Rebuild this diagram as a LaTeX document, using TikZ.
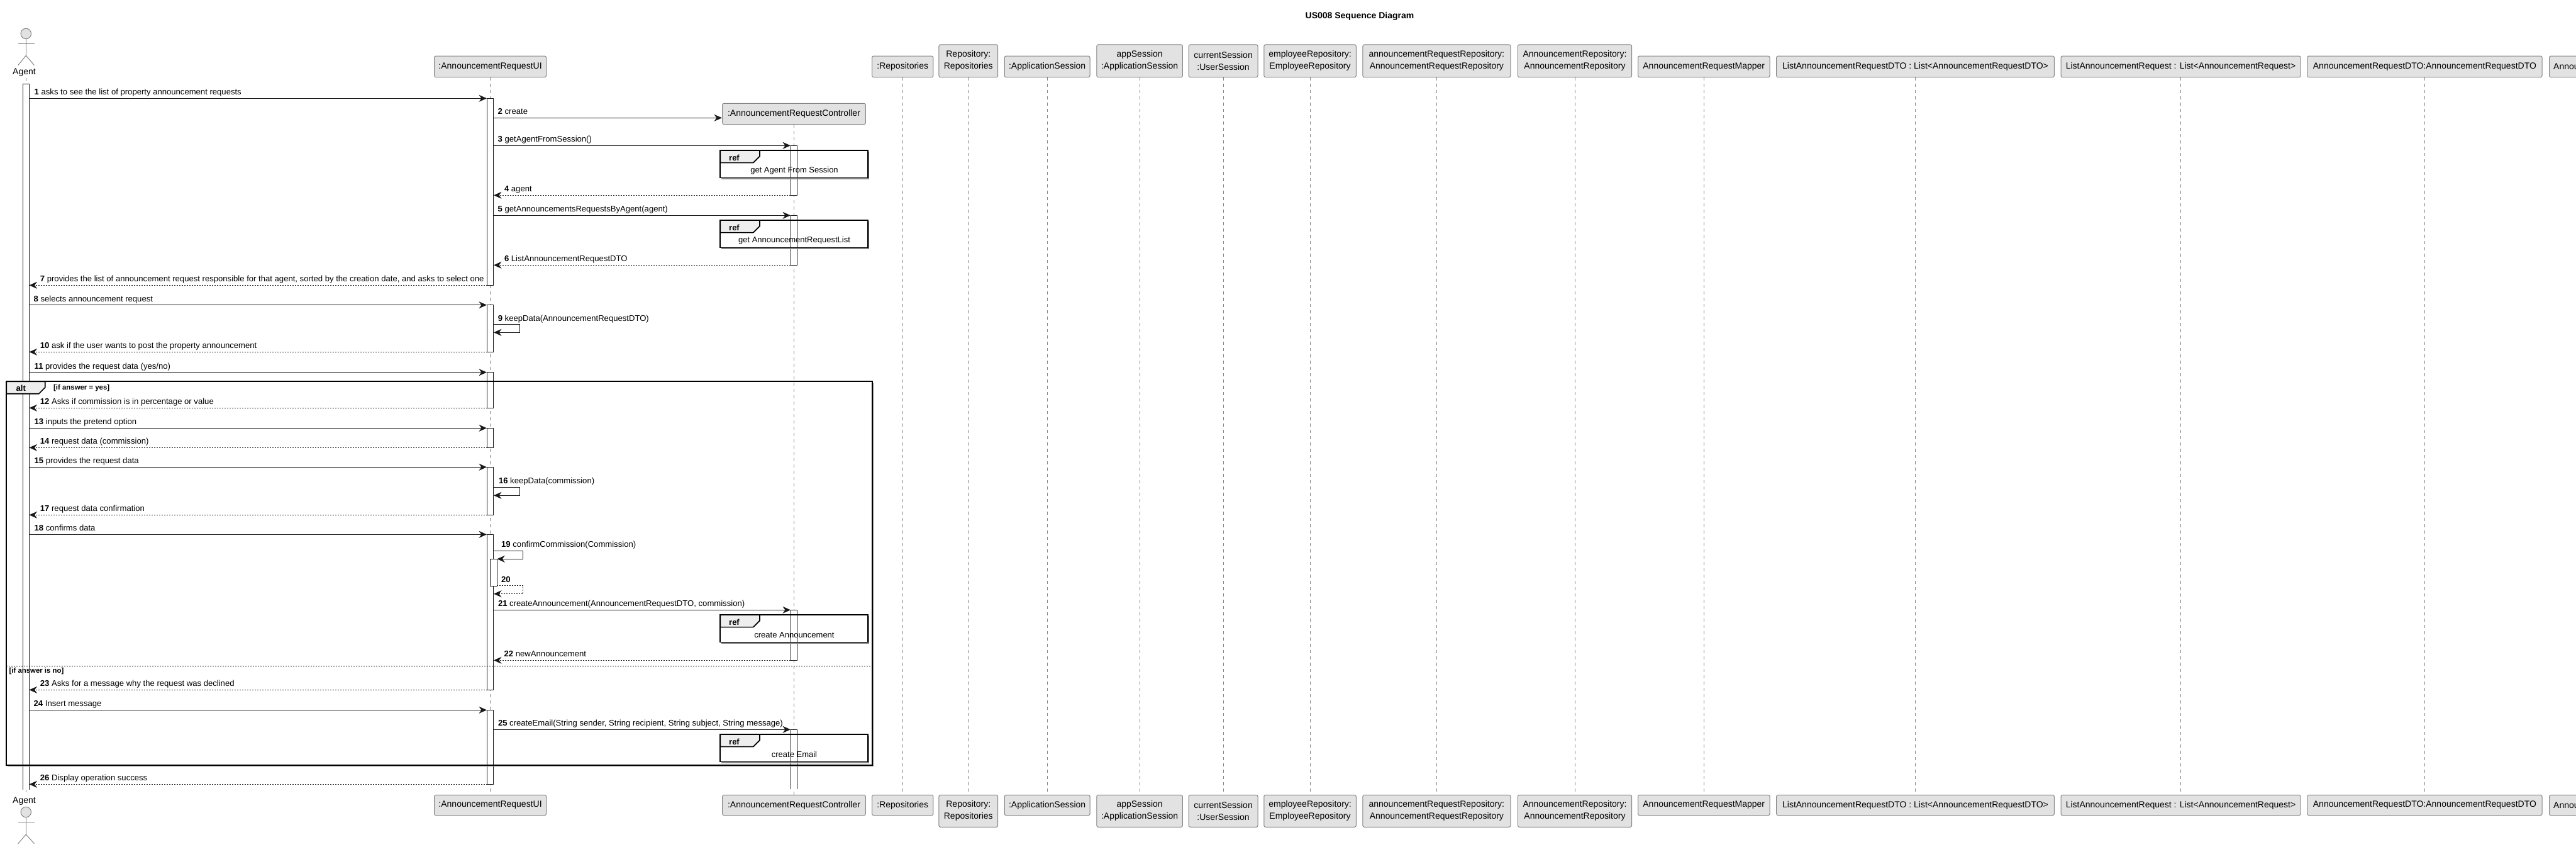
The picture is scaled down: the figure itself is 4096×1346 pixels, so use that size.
\documentclass[tikz,border=0pt]{standalone}
\usepackage{fontspec}
\setmainfont{Liberation Sans}
\usetikzlibrary{arrows.meta}
\definecolor{pfill}{HTML}{E2E2E2}
\definecolor{pline}{HTML}{848484}
\definecolor{ink}{HTML}{181818}
\definecolor{tabfill}{HTML}{EEEEEE}
\tikzset{
  pbx/.style={draw=pline,fill=pfill,line width=1pt,rounded corners=2.5pt,inner sep=0pt,align=center,
    font=\fontsize{14}{19}\selectfont,text=black},
  life/.style={draw=pline,line width=0.8pt,dash pattern=on 5pt off 5pt},
  actbox/.style={draw=ink,fill=white,line width=1pt,inner sep=0pt},
  tip/.style={-{Stealth[length=12.5pt,width=11pt,inset=4pt,color=ink]}},
  call/.style={tip,draw=ink,line width=1pt},
  back/.style={tip,draw=ink,line width=1pt,dash pattern=on 2pt off 2pt},
  lbl/.style={anchor=base west,inner sep=0pt,font=\fontsize{13.1}{15}\selectfont,text=black},
  frm/.style={draw=black,line width=1.7pt,inner sep=0pt},
  shad/.style={draw=pline,line width=1.5pt},
  tabshape/.style={draw=black,fill=tabfill,line width=1.7pt,line join=round},
  tabtext/.style={inner sep=0pt,font=\fontsize{13}{15}\bfseries\selectfont},
  reftext/.style={inner sep=0pt,font=\fontsize{13}{15}\selectfont},
  guard/.style={anchor=west,inner sep=0pt,font=\fontsize{11.4}{13}\bfseries\selectfont},
  stick/.style={draw=pline,line width=1pt},
  headc/.style={draw=pline,fill=pfill,line width=1pt,circle,minimum size=16.5pt,inner sep=0pt},
  agentlbl/.style={inner sep=0pt,font=\fontsize{14}{16}\selectfont},
}
% name, x1, x2, y1, y2, text
\newcommand\pbox[6]{\node[pbx,minimum width={#3-#2},minimum height={#5-#4}] (#1) at ({(#2+#3)/2},{(#4+#5)/2}) {#6};}
% name, x1, x2, y1, y2
\newcommand\actbar[5]{\node[actbox,minimum width={#3-#2},minimum height={#5-#4}] (#1) at ({(#2+#3)/2},{(#4+#5)/2}) {};}
% name, x1, x2, y, style, label x, number, text
\newcommand\msg[8]{\coordinate (#1s) at (#2,#4);\coordinate (#1e) at (#3,#4);\draw[#5] (#1s) -- (#1e);
  \node[lbl] (#1l) at (#6,{#4-5.5}) {\textbf{#7} #8};}
% name, x, y of self message: x1, xout, x2, y1, y2, style
\newcommand\selfmsg[7]{\coordinate (#1s) at (#2,#5);\coordinate (#1o) at (#3,{(#5+#6)/2});\coordinate (#1e) at (#4,#6);
  \draw[#7] (#1s) -| (#1o) |- (#1e);}
% name, label x, y, number, text
\newcommand\slbl[5]{\node[lbl] (#1) at (#2,{#3-5.5}) {\textbf{#4} #5};}
% name, x1, y1, x2, y2
\newcommand\sframe[5]{\draw[shad] (#4+1.7,#3+2) -- (#4+1.7,#5+1.7) -- (#2+2,#5+1.7);
  \node[frm,minimum width={#4-#2},minimum height={#5-#3}] (#1) at ({(#2+#4)/2},{(#3+#5)/2}) {};}
% name, x1, y1, x2(tab), y2(tab), cut
\newcommand\tabpath[6]{\draw[tabshape] (#2,#3) -- (#4,#3) -- (#4,{#5-#6}) -- ({#4-#6},#5) -- (#2,#5) -- cycle;}
% reference block: name, top y, text
\newcommand\refblock[3]{\sframe{#1}{1145.2}{#2}{1380}{#2+43.5}
  \tabpath{#1t}{1145.2}{#2}{1208}{#2+19.6}{10.3}
  \node[tabtext] (#1r) at (1167.5,{#2+11.8}) {ref};
  \node[reftext] (#1x) at (1263,{#2+31.7}) {#3};}
\begin{document}
\begin{tikzpicture}[x=1pt,y=-1pt]
\useasboundingbox (0,0) rectangle (4096,1346);
\node[inner sep=0pt,font=\fontsize{14}{16}\bfseries\selectfont] (title) at (2162,25.5) {US008 Sequence Diagram};
% top participants
\node[agentlbl] (agt) at (38.5,115.5) {Agent};
\pbox{ui}{690.6}{868.5}{89}{122.7}{:AnnouncementRequestUI}
\pbox{ctl}{1148.7}{1376.3}{164.3}{197.7}{:AnnouncementRequestController}
\pbox{rep}{1386.6}{1483.9}{89}{122.7}{:Repositories}
\pbox{repo}{1492.9}{1586.6}{71}{122.7}{Repository:\\Repositories}
\pbox{as}{1597.3}{1733}{89}{122.7}{:ApplicationSession}
\pbox{aps}{1743.8}{1880.4}{71}{122.7}{appSession\\:ApplicationSession}
\pbox{cur}{1890.2}{2000}{71}{122.7}{currentSession\\:UserSession}
\pbox{emp}{2009.8}{2156.3}{71}{122.7}{employeeRepository:\\EmployeeRepository}
\pbox{arr}{2166.9}{2401.8}{71}{122.7}{announcementRequestRepository:\\AnnouncementRequestRepository}
\pbox{anr}{2413.4}{2594.6}{71}{122.7}{AnnouncementRepository:\\AnnouncementRepository}
\pbox{map}{2604.5}{2814}{89}{122.7}{AnnouncementRequestMapper}
\pbox{ldto}{2824.7}{3266.3}{89}{122.7}{ListAnnouncementRequestDTO : List<AnnouncementRequestDTO>}
\pbox{lreq}{3277}{3658}{89}{122.7}{ListAnnouncementRequest : List<AnnouncementRequest>}
\pbox{dto}{3668.8}{4042}{89}{122.7}{AnnouncementRequestDTO:AnnouncementRequestDTO}
\pbox{ann}{4053.5}{4160}{89}{122.7}{}
\node[anchor=west,inner sep=0pt,font=\fontsize{14}{16}\selectfont] (annt) at (4060,106) {Annou};
% bottom participants
\node[agentlbl] (agb) at (38.5,1273.3) {Agent};
\pbox{uib}{690.6}{868.5}{1263.3}{1295.7}{:AnnouncementRequestUI}
\pbox{ctlb}{1148.7}{1376.3}{1263.3}{1295.7}{:AnnouncementRequestController}
\pbox{repb}{1386.6}{1483.9}{1263.3}{1295.7}{:Repositories}
\pbox{repob}{1492.9}{1586.6}{1263.3}{1314.3}{Repository:\\Repositories}
\pbox{asb}{1597.3}{1733}{1263.3}{1295.7}{:ApplicationSession}
\pbox{apsb}{1743.8}{1880.4}{1263.3}{1314.3}{appSession\\:ApplicationSession}
\pbox{curb}{1890.2}{2000}{1263.3}{1314.3}{currentSession\\:UserSession}
\pbox{empb}{2009.8}{2156.3}{1263.3}{1314.3}{employeeRepository:\\EmployeeRepository}
\pbox{arrb}{2166.9}{2401.8}{1263.3}{1314.3}{announcementRequestRepository:\\AnnouncementRequestRepository}
\pbox{anrb}{2413.4}{2594.6}{1263.3}{1314.3}{AnnouncementRepository:\\AnnouncementRepository}
\pbox{mapb}{2604.5}{2814}{1263.3}{1295.7}{AnnouncementRequestMapper}
\pbox{ldtob}{2824.7}{3266.3}{1263.3}{1295.7}{ListAnnouncementRequestDTO : List<AnnouncementRequestDTO>}
\pbox{lreqb}{3277}{3658}{1263.3}{1295.7}{ListAnnouncementRequest : List<AnnouncementRequest>}
\pbox{dtob}{3668.8}{4042}{1263.3}{1295.7}{AnnouncementRequestDTO:AnnouncementRequestDTO}
\pbox{annb}{4053.5}{4160}{1263.3}{1295.7}{}
\node[anchor=west,inner sep=0pt,font=\fontsize{14}{16}\selectfont] (anbt) at (4060,1280) {Annou};
% actors
\node[headc] (ht) at (41.3,53.5) {};
\coordinate (hthip) at (41.3,88.3);
\coordinate (htl) at (28.7,69.3);\coordinate (htr) at (54.5,69.3);
\coordinate (htfl) at (28.7,103.7);\coordinate (htfr) at (54.5,103.7);
\draw[stick] (ht.south) -- (hthip);\draw[stick] (htl) -- (htr);
\draw[stick] (htfl) -- (hthip) -- (htfr);
\node[headc] (hb) at (41.3,1290.5) {};
\coordinate (hbhip) at (41.3,1326);
\coordinate (hbl) at (28.7,1306.3);\coordinate (hbr) at (54.5,1306.3);
\coordinate (hbfl) at (28.7,1340.7);\coordinate (hbfr) at (54.5,1340.7);
\draw[stick] (hb.south) -- (hbhip);\draw[stick] (hbl) -- (hbr);
\draw[stick] (hbfl) -- (hbhip) -- (hbfr);
% lifelines
\coordinate (agl1) at (41.3,124);\coordinate (agl2) at (41.3,1263);
\draw[life] (agl1) -- (agl2);
\draw[life] (ui.south) -- (uib.north);
\draw[life] (ctl.south) -- (ctlb.north);
\draw[life] (rep.south) -- (repb.north);
\draw[life] (repo.south) -- (repob.north);
\draw[life] (as.south) -- (asb.north);
\draw[life] (aps.south) -- (apsb.north);
\draw[life] (cur.south) -- (curb.north);
\draw[life] (emp.south) -- (empb.north);
\draw[life] (arr.south) -- (arrb.north);
\draw[life] (anr.south) -- (anrb.north);
\draw[life] (map.south) -- (mapb.north);
\draw[life] (ldto.south) -- (ldtob.north);
\draw[life] (lreq.south) -- (lreqb.north);
\draw[life] (dto.south) -- (dtob.north);
% activation bars
\coordinate (ab1) at (36.2,133.3);\coordinate (ab2) at (46,133.3);\coordinate (ab3) at (46,1255);\coordinate (ab4) at (36.2,1255);
\fill[white] (ab1) rectangle (ab3);\draw[draw=ink,line width=1pt] (ab4) -- (ab1) -- (ab2) -- (ab3);
\actbar{u1}{774.6}{784.7}{156.3}{453.3}
\actbar{u2}{774.6}{784.7}{484.7}{559.3}
\actbar{u3}{774.6}{784.7}{591.7}{648.3}
\actbar{u4}{774.6}{784.7}{680.3}{711.3}
\actbar{u5}{774.6}{784.7}{742.3}{818.3}
\actbar{u6}{774.6}{784.7}{849.3}{1096.3}
\actbar{u6n}{779.6}{790}{888.3}{931.3}
\actbar{u7}{774.6}{784.7}{1128.3}{1246.3}
\actbar{c1}{1257.4}{1267.4}{231.3}{310.3}
\actbar{c2}{1257.4}{1267.4}{342.3}{421.3}
\actbar{c3}{1257.4}{1267.4}{969.3}{1049.3}
\coordinate (c4a) at (1257.4,1159.3);\coordinate (c4b) at (1267.4,1159.3);\coordinate (c4c) at (1267.4,1254.3);\coordinate (c4d) at (1257.4,1254.3);
\fill[white] (c4a) rectangle (c4c);\draw[draw=ink,line width=1pt] (c4d) -- (c4a) -- (c4b) -- (c4c);
% alt frame
\sframe{alt}{10.3}{606.3}{1386.7}{1215.7}
\tabpath{altt}{10.3}{606.3}{71.8}{625.7}{10}
\node[tabtext] (altn) at (33.3,616.5) {alt};
\node[guard] (g1) at (85,616.5) {[if answer = yes]};
\coordinate (el1) at (10.3,1058.3);\coordinate (el2) at (1386.7,1058.3);
\draw[draw=black,line width=1pt,dash pattern=on 2pt off 2pt] (el1) -- (el2);
\node[guard] (g2) at (14.4,1066.3) {[if answer is no]};
% ref blocks
\refblock{r1}{239}{get Agent From Session}
\refblock{r2}{350}{get AnnouncementRequestList}
\refblock{r3}{977}{create Announcement}
\refblock{r4}{1167}{create Email}
% messages
\msg{m1}{46.5}{774}{156.3}{call}{54.5}{1}{asks to see the list of property announcement requests}
\msg{m2}{785}{1148}{187.3}{call}{791.5}{2}{create}
\msg{m3}{785}{1257}{231.3}{call}{791.5}{3}{getAgentFromSession()}
\msg{m4}{1257}{785}{310.3}{back}{801.8}{4}{agent}
\msg{m5}{785}{1257}{342.3}{call}{791.5}{5}{getAnnouncementsRequestsByAgent(agent)}
\msg{m6}{1257}{785}{421.3}{back}{801.8}{6}{ListAnnouncementRequestDTO}
\msg{m7}{774.5}{46.5}{453.3}{back}{63.7}{7}{provides the list of announcement request responsible for that agent, sorted by the creation date, and asks to select one}
\msg{m8}{46.5}{774}{484.7}{call}{53.5}{8}{selects announcement request}
\selfmsg{m9}{784.7}{826.6}{785}{515.7}{528.3}{call}
\slbl{m9l}{791.6}{515.7}{9}{keepData(AnnouncementRequestDTO)}
\msg{m10}{774.5}{46.5}{559.3}{back}{63.7}{10}{ask if the user wants to post the property announcement}
\msg{m11}{46.5}{774}{591.7}{call}{54.5}{11}{provides the request data (yes/no)}
\msg{m12}{774.5}{46.5}{648.3}{back}{63.7}{12}{Asks if commission is in percentage or value}
\msg{m13}{46.5}{774}{680.3}{call}{54.5}{13}{inputs the pretend option}
\msg{m14}{774.5}{46.5}{711.3}{back}{63.7}{14}{request data (commission)}
\msg{m15}{46.5}{774}{742.3}{call}{54.5}{15}{provides the request data}
\selfmsg{m16}{784.7}{826.6}{785}{774.3}{787.3}{call}
\slbl{m16l}{792.8}{774.3}{16}{keepData(commission)}
\msg{m17}{774.5}{46.5}{818.3}{back}{63.7}{17}{request data confirmation}
\msg{m18}{46.5}{774}{849.3}{call}{54.5}{18}{confirms data}
\selfmsg{m19}{784.7}{831.8}{790.3}{875.3}{888.3}{call}
\slbl{m19l}{797}{875.3}{19}{confirmCommission(Commission)}
\selfmsg{m20}{790}{831.8}{785}{930.8}{943.7}{back}
\slbl{m20l}{796.8}{930.8}{20}{}
\msg{m21}{785}{1257}{969.3}{call}{791.8}{21}{createAnnouncement(AnnouncementRequestDTO, commission)}
\msg{m22}{1257}{785}{1049.3}{back}{801.5}{22}{newAnnouncement}
\msg{m23}{774.5}{46.5}{1096.3}{back}{63.7}{23}{Asks for a message why the request was declined}
\msg{m24}{46.5}{774}{1128.3}{call}{53.5}{24}{Insert message}
\msg{m25}{785}{1257}{1159.3}{call}{791.8}{25}{createEmail(String sender, String recipient, String subject, String message)}
\msg{m26}{774.5}{46.5}{1246.3}{back}{63.7}{26}{Display operation success}
\end{tikzpicture}
\end{document}
